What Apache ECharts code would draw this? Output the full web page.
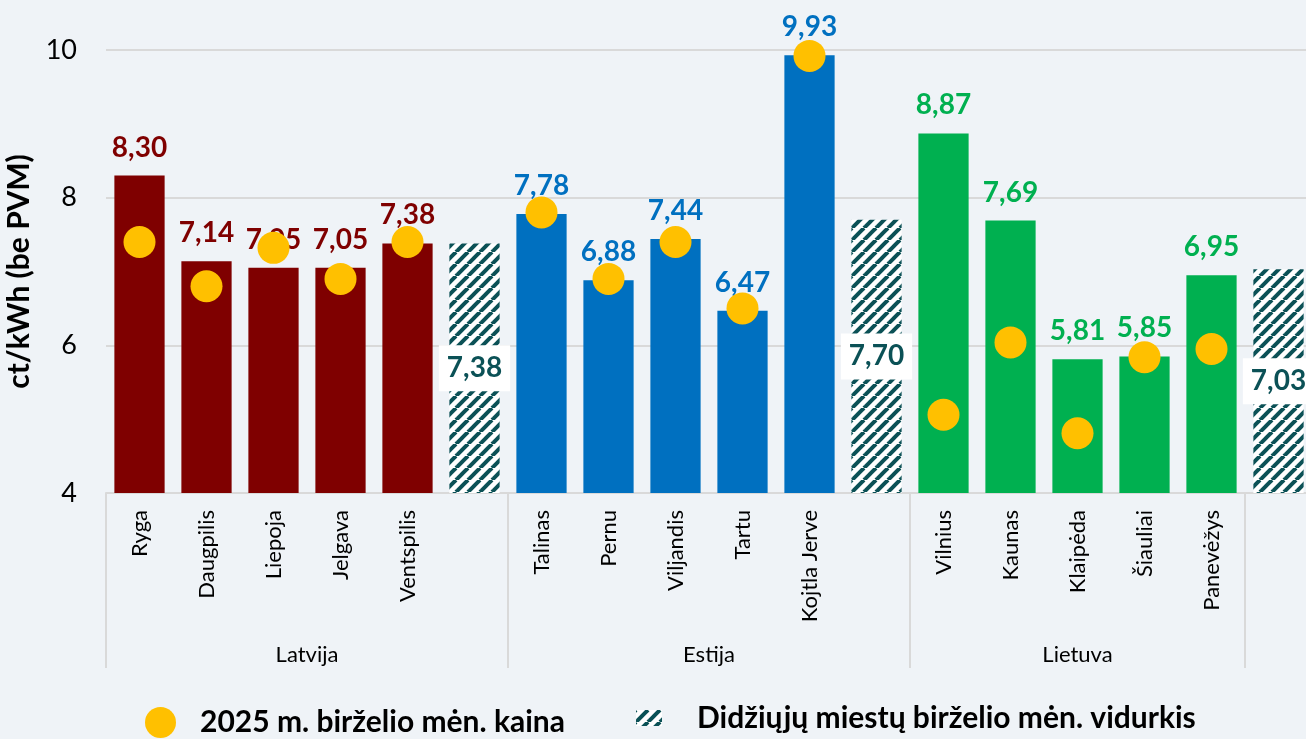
<!DOCTYPE html>
<html>
<head>
<meta charset="utf-8">
<script src="https://cdn.jsdelivr.net/npm/echarts@6/dist/echarts.min.js"></script>
<style>
  html, body { margin: 0; padding: 0; background: #eff3f7; }
  #chart { width: 1306px; height: 739px; }
</style>
</head>
<body>
<div id="chart"></div>
<script>
// Latvija
const latviaCities = ['Ryga', 'Daugpilis', 'Liepoja', 'Jelgava', 'Ventspilis'];
const latviaPrice = [8.30, 7.14, 7.05, 7.05, 7.38];
const latviaJune2025 = [7.40, 6.80, 7.32, 6.90, 7.40];
const latviaAvg = 7.38;

// Estija
const estoniaCities = ['Talinas', 'Pernu', 'Viljandis', 'Tartu', 'Kojtla Jerve'];
const estoniaPrice = [7.78, 6.88, 7.44, 6.47, 9.93];
const estoniaJune2025 = [7.80, 6.90, 7.40, 6.50, 9.92];
const estoniaAvg = 7.70;

// Lietuva
const lithuaniaCities = ['Vilnius', 'Kaunas', 'Klaipėda', 'Šiauliai', 'Panevėžys'];
const lithuaniaPrice = [8.87, 7.69, 5.81, 5.85, 6.95];
const lithuaniaJune2025 = [5.06, 6.04, 4.81, 5.84, 5.95];
const lithuaniaAvg = 7.03;

const yTicks = [4, 6, 8, 10];
const groupNames = ['Latvija', 'Estija', 'Lietuva'];

const PRICE_NAME = '2025 m. birželio mėn. kaina';
const AVG_NAME = 'Didžiųjų miestų birželio mėn. vidurkis';

const countries = [
  { name: 'Latvija', cities: latviaCities, price: latviaPrice, june: latviaJune2025, avg: latviaAvg, color: '#7f0000' },
  { name: 'Estija', cities: estoniaCities, price: estoniaPrice, june: estoniaJune2025, avg: estoniaAvg, color: '#0070c0' },
  { name: 'Lietuva', cities: lithuaniaCities, price: lithuaniaPrice, june: lithuaniaJune2025, avg: lithuaniaAvg, color: '#00b050' }
];

// Build the shared category list: five cities then an unlabeled average slot per country
const categories = [];
const cityBars = [];
const avgBars = [];
const juneDots = [];
const separatorIdx = [];
countries.forEach(function (c) {
  separatorIdx.push(categories.length);
  c.cities.forEach(function (city, i) {
    categories.push(city);
    cityBars.push({ value: c.price[i], itemStyle: { color: c.color }, label: { color: c.color } });
    avgBars.push('-');
    juneDots.push(c.june[i]);
  });
  if (c.name === 'Lietuva') separatorIdx.push(categories.length);
  categories.push(c.name + '_avg');
  cityBars.push('-');
  avgBars.push(c.avg);
  juneDots.push('-');
});

// Diagonal hatch tile for the average bars
function makeHatch(period, width, color) {
  const cv = document.createElement('canvas');
  cv.width = period; cv.height = period;
  const ctx = cv.getContext('2d');
  ctx.fillStyle = '#ffffff';
  ctx.fillRect(0, 0, period, period);
  ctx.strokeStyle = color;
  ctx.lineWidth = width;
  [-period, 0, period].forEach(function (o) {
    ctx.beginPath();
    ctx.moveTo(o, period);
    ctx.lineTo(o + period, 0);
    ctx.stroke();
  });
  return cv;
}
const teal = '#0b5156';
const hatch = { image: makeHatch(12, 4, teal), repeat: 'repeat' };

const fmt = function (v) { return Number(v).toFixed(2).replace('.', ','); };
const FONT = 'Lato';

const chart = echarts.init(document.getElementById('chart'));
const option = {
  backgroundColor: '#eff3f7',
  animation: false,
  // the last average column runs past the right edge of the canvas
  grid: { left: 106, width: 1206, top: 50, height: 443, outerBoundsMode: 'none', containLabel: false },
  legend: [
    {
      data: [PRICE_NAME], left: 145, top: 707, padding: 0,
      itemWidth: 31, itemHeight: 31, icon: 'circle', selectedMode: false,
      textStyle: { fontFamily: FONT, fontWeight: 'bold', fontSize: 30, color: '#000', padding: [0, 0, 0, 19] }
    },
    {
      data: [AVG_NAME], left: 636, top: 703, padding: 0,
      itemWidth: 26, itemHeight: 16, icon: 'rect', selectedMode: false,
      textStyle: { fontFamily: FONT, fontWeight: 'bold', fontSize: 30, color: '#000', padding: [0, 0, 0, 30] }
    }
  ],
  xAxis: {
    type: 'category',
    data: categories,
    axisLine: { lineStyle: { color: '#d9d9d9', width: 2 } },
    axisTick: {
      show: true, length: 175,
      interval: function (idx) { return separatorIdx.indexOf(idx) >= 0; },
      lineStyle: { color: '#d9d9d9', width: 2 }
    },
    axisLabel: {
      interval: 0, rotate: 90, margin: 17,
      fontFamily: FONT, fontSize: 22, color: '#000',
      formatter: function (v) { return v.indexOf('_avg') >= 0 ? '' : v; }
    }
  },
  yAxis: {
    type: 'value', min: yTicks[0], max: yTicks[yTicks.length - 1], interval: 2,
    name: 'ct/kWh (be PVM)', nameLocation: 'middle', nameGap: 66,
    nameTextStyle: { fontFamily: FONT, fontWeight: 'bold', fontSize: 30, color: '#000' },
    axisLine: { show: false }, axisTick: { show: false },
    axisLabel: { fontFamily: FONT, fontSize: 27, color: '#000', margin: 29 },
    splitLine: { lineStyle: { color: '#d9d9d9', width: 2 } }
  },
  series: [
    {
      name: 'Kaina', type: 'bar', data: cityBars,
      barCategoryGap: '25%', barGap: '-100%', z: 2,
      label: {
        show: true, position: 'top', distance: 14,
        fontFamily: FONT, fontWeight: 'bold', fontSize: 28,
        formatter: function (p) { return fmt(p.value); }
      }
    },
    {
      name: AVG_NAME, type: 'bar', data: avgBars,
      barCategoryGap: '25%', barGap: '-100%', z: 2,
      itemStyle: { color: hatch },
      label: {
        show: true, position: 'inside',
        fontFamily: FONT, fontWeight: 'bold', fontSize: 28, color: teal,
        backgroundColor: '#ffffff', padding: [10, 8, 8, 8],
        formatter: function (p) { return fmt(p.value); }
      }
    },
    {
      name: PRICE_NAME, type: 'scatter', data: juneDots,
      symbol: 'circle', symbolSize: 32, z: 3,
      itemStyle: { color: '#ffc000', opacity: 1 }
    }
  ]
};
chart.setOption(option);

// Country names centred between the group separators under the city labels
const graphics = [];
for (let g = 0; g < groupNames.length; g++) {
  const a = chart.convertToPixel({ xAxisIndex: 0 }, categories[separatorIdx[g]]);
  const b = chart.convertToPixel({ xAxisIndex: 0 }, categories[separatorIdx[g + 1] - 1]);
  graphics.push({
    type: 'text', x: (a + b) / 2, y: 655,
    style: { text: groupNames[g], fontFamily: FONT, fontSize: 22, fill: '#000', align: 'center', verticalAlign: 'middle' }
  });
}
chart.setOption({ graphic: graphics });
</script>
</body>
</html>
